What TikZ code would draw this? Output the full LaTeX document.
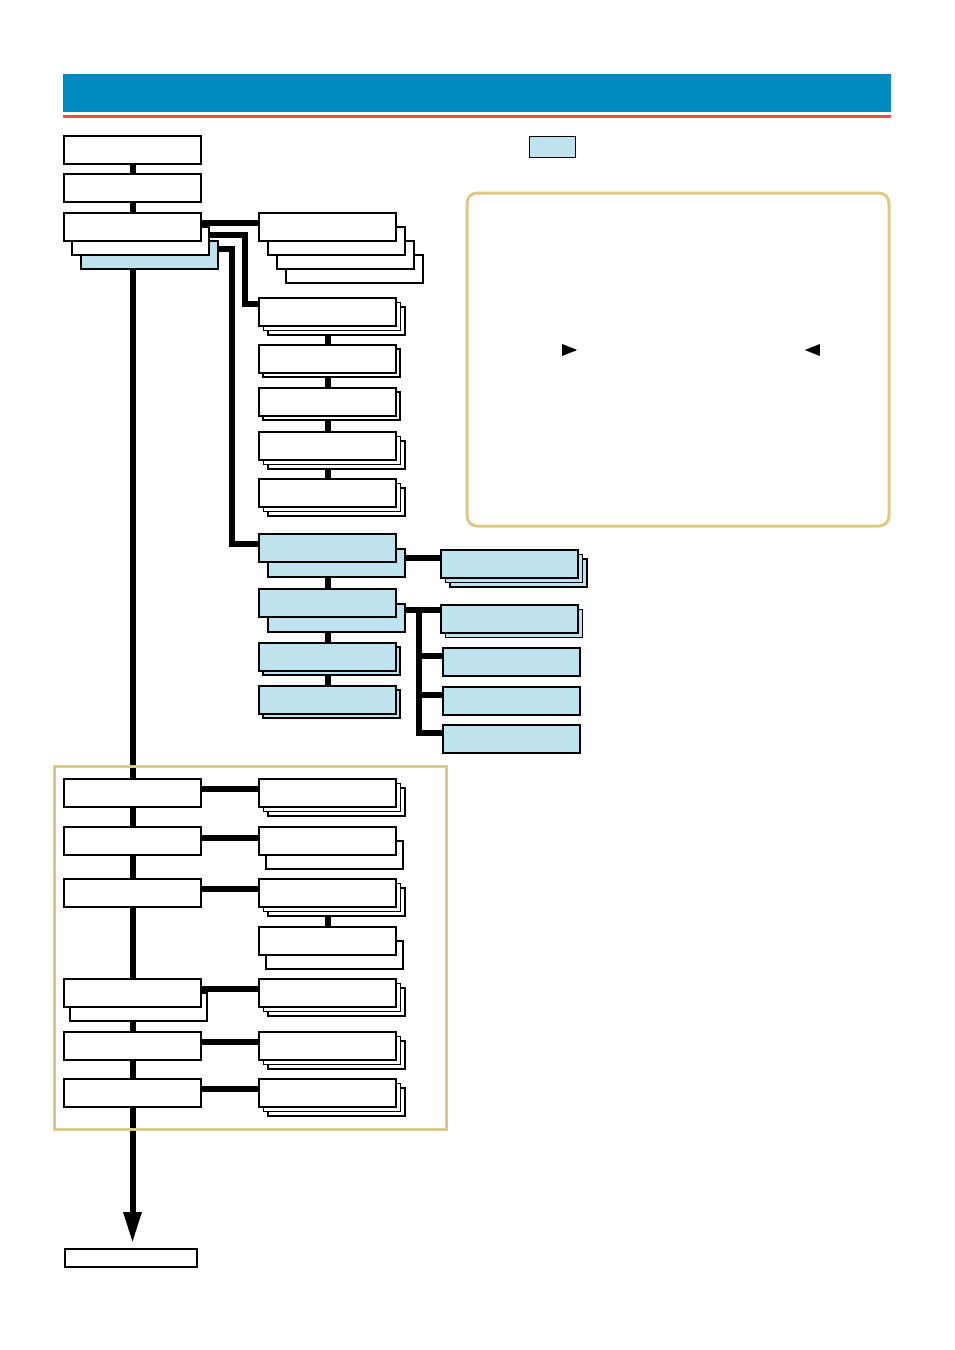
\documentclass[tikz,border=0pt]{standalone}
\usetikzlibrary{arrows.meta,backgrounds,calc,shapes.geometric}
\definecolor{hdrblue}{HTML}{008BC0}
\definecolor{hdrred}{HTML}{E5504F}
\definecolor{lblue}{HTML}{BFE3EE}
\definecolor{tan}{HTML}{DBC98A}
\tikzset{
  mainbox/.style={draw=black, line width=2pt, minimum width=137pt, minimum height=28pt, inner sep=0pt, outer sep=0pt, anchor=north west, fill=white},
  layerbox/.style={draw=black, line width=1.2pt, minimum width=137pt, minimum height=28pt, inner sep=0pt, outer sep=0pt, anchor=north west, fill=white},
  thicklayer/.style={layerbox, line width=2pt},
  conn/.style={draw=black, line width=6pt},
  panel/.style={draw=tan, line width=3pt},
  tri/.style={fill=black, isosceles triangle, inner sep=0pt, minimum width=12pt, minimum height=15pt, isosceles triangle stretches},
}
% #1 name, #2 x, #3 y, #4 fill, #5 layer offsets (deepest first) dx/dy/style
\newcommand\stackednode[5]{%
  \foreach \dx/\dy/\st [count=\i] in {#5} {%
    \node[\st, fill=#4] (#1-\i) at (#2+\dx, #3+\dy) {};
  }%
  \node[mainbox, fill=#4] (#1) at (#2,#3) {};
}
\begin{document}
\begin{tikzpicture}[x=1pt,y=-1pt]
\useasboundingbox (0,0) rectangle (954,1350);
% header
\fill[hdrblue] (63,74) rectangle (891,112);
\fill[hdrred] (63,115) rectangle (891,118);
% legend swatch
\node[draw=black, line width=1pt, fill=lblue, minimum width=46pt, minimum height=21pt, inner sep=0pt, anchor=north west] (legend) at (529,136) {};
% note panel
\draw[panel, rounded corners=10pt] (467,193) rectangle (889,526);
\node[tri, anchor=west] (tri-r) at (562,350) {};
\node[tri, shape border rotate=180, anchor=east] (tri-l) at (820,350) {};
% lower panel
\draw[panel] (54,766) rectangle (446,1129);

% left top column
\node[mainbox] (A) at (64,136) {};
\node[mainbox] (B) at (64,174) {};
\node[layerbox, fill=lblue] (C-2) at (81,241) {};
\node[layerbox] (C-1) at (72,227) {};
\node[mainbox] (C) at (64,213) {};

% D stack
\stackednode{D}{259}{213}{white}{27/42/layerbox,18/28/layerbox,9/14/layerbox}
% E chain
\stackednode{E}{259}{298}{white}{9/9/layerbox,4.5/4.5/layerbox}
\stackednode{E2}{259}{345}{white}{4/4/layerbox}
\stackednode{E3}{259}{388}{white}{4/4/layerbox}
\stackednode{E4}{259}{432}{white}{9/9/layerbox,4.5/4.5/layerbox}
\stackednode{E5}{259}{479}{white}{9/9/layerbox,4.5/4.5/layerbox}
% F chain (blue)
\stackednode{F}{259}{534}{lblue}{9/15/layerbox}
\stackednode{F2}{259}{589}{lblue}{9/15/layerbox}
\stackednode{F3}{259}{643}{lblue}{4/4/layerbox}
\stackednode{F4}{259}{686}{lblue}{4/4/layerbox}
% G and H (blue)
\stackednode{G}{441}{550}{lblue}{9/9/layerbox,4.5/4.5/layerbox}
\stackednode{H}{441}{605}{lblue}{4.5/4.5/layerbox}
\node[mainbox, fill=lblue] (H2) at (443,648) {};
\node[mainbox, line width=1.4pt, fill=lblue] (H3) at (443,687) {};
\node[mainbox, line width=1.4pt, fill=lblue] (H4) at (443,725) {};

% lower left column
\node[mainbox] (L1) at (64,779) {};
\node[mainbox] (L2) at (64,827) {};
\node[mainbox] (L3) at (64,879) {};
\node[layerbox] (L4-1) at (70,993) {};
\node[mainbox] (L4) at (64,979) {};
\node[mainbox] (L5) at (64,1032) {};
\node[mainbox] (L6) at (64,1079) {};
% lower right column
\stackednode{R1}{259}{779}{white}{9/9/layerbox,4.5/4.5/layerbox}
\stackednode{R2}{259}{827}{white}{7/14/thicklayer}
\stackednode{R3}{259}{879}{white}{9/9/layerbox,4.5/4.5/layerbox}
\stackednode{R3b}{259}{927}{white}{7/14/thicklayer}
\stackednode{R4}{259}{979}{white}{9/9/layerbox,4.5/4.5/layerbox}
\stackednode{R5}{259}{1032}{white}{9/9/layerbox,4.5/4.5/layerbox}
\stackednode{R6}{259}{1079}{white}{9/9/layerbox,4.5/4.5/layerbox}

% bottom box
\node[draw=black, line width=2pt, minimum width=132pt, minimum height=18pt, inner sep=0pt, anchor=north west, fill=white] (Z) at (64,1248) {};
\coordinate (tip) at (Z.north -| C.south);

% connectors on background
\begin{scope}[on background layer]
\draw[conn] (A.center) -- (B.center);
\draw[conn] (B.center) -- (C.center);
\draw[conn, -{Triangle[length=31pt,width=17pt]}] (C.center) -- ([yshift=5pt]tip);
% C to D
\draw[conn] ([yshift=4pt]C.east) -- ([yshift=4pt]C.east -| D.west);
% C-1 to E
\coordinate (c1o) at ([yshift=6.5pt]C-1.east);
\coordinate (eo) at ([yshift=8pt]E.west);
\draw[conn] (c1o) -- ++(36,0) |- (eo);
% C-2 to F
\coordinate (c2o) at ([yshift=6.5pt]C-2.east);
\coordinate (fo) at ([yshift=4pt]F.west);
\draw[conn] (c2o) -- ++(14,0) |- (fo);
% E chain
\draw[conn] (E.center) -- (E2.center);
\draw[conn] (E2.center) -- (E3.center);
\draw[conn] (E3.center) -- (E4.center);
\draw[conn] (E4.center) -- (E5.center);
% F chain
\draw[conn] (F.center) -- (F2.center);
\draw[conn] (F2.center) -- (F3.center);
\draw[conn] (F3.center) -- (F4.center);
% F to G
\coordinate (fgo) at ([yshift=-9.5pt]F.east);
\draw[conn] (fgo) -- (fgo -| G.west);
% F2 to H group
\coordinate (f2o) at ([yshift=-7pt]F2.east);
\coordinate (hb) at ([xshift=-22pt]H.west |- f2o);
\draw[conn] (f2o) -- (f2o -| H.west);
\coordinate (h4b) at ([yshift=6pt]H4.west);
\draw[conn] (hb) -- (hb |- h4b) -- (h4b);
\coordinate (h2b) at ([yshift=6pt]H2.west);
\coordinate (h3b) at ([yshift=6pt]H3.west);
\draw[conn] (hb |- h2b) -- (h2b);
\draw[conn] (hb |- h3b) -- (h3b);
% lower connectors
\draw[conn] ([yshift=4pt]L1.east) -- ([yshift=4pt]L1.east -| R1.west);
\draw[conn] ([yshift=3.5pt]L2.east) -- ([yshift=3.5pt]L2.east -| R2.west);
\draw[conn] ([yshift=4pt]L3.east) -- ([yshift=4pt]L3.east -| R3.west);
\draw[conn] ([yshift=4pt]L4.east) -- ([yshift=4pt]L4.east -| R4.west);
\draw[conn] ([yshift=4pt]L5.east) -- ([yshift=4pt]L5.east -| R5.west);
\draw[conn] ([yshift=4pt]L6.east) -- ([yshift=4pt]L6.east -| R6.west);
\draw[conn] (R3.center) -- (R3b.center);
\end{scope}
\end{tikzpicture}
\end{document}
